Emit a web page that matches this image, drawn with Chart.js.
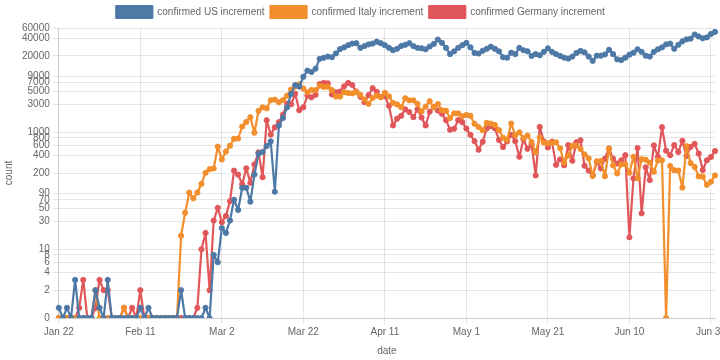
<!DOCTYPE html>
<html><head><meta charset="utf-8">
<script src="https://cdn.jsdelivr.net/npm/chart.js@4"></script>
<style>html,body{margin:0;padding:0;background:#fff}#wrap{width:720px;height:360px}</style>
</head><body><div id="wrap"><canvas id="c" width="720" height="360"></canvas></div>
<script>
const dates = [
"Jan 22","Jan 23","Jan 24","Jan 25","Jan 26","Jan 27","Jan 28","Jan 29","Jan 30","Jan 31",
"Feb 1","Feb 2","Feb 3","Feb 4","Feb 5","Feb 6","Feb 7","Feb 8","Feb 9","Feb 10","Feb 11","Feb 12","Feb 13","Feb 14","Feb 15","Feb 16","Feb 17","Feb 18","Feb 19","Feb 20","Feb 21","Feb 22","Feb 23","Feb 24","Feb 25","Feb 26","Feb 27","Feb 28","Feb 29",
"Mar 1","Mar 2","Mar 3","Mar 4","Mar 5","Mar 6","Mar 7","Mar 8","Mar 9","Mar 10","Mar 11","Mar 12","Mar 13","Mar 14","Mar 15","Mar 16","Mar 17","Mar 18","Mar 19","Mar 20","Mar 21","Mar 22","Mar 23","Mar 24","Mar 25","Mar 26","Mar 27","Mar 28","Mar 29","Mar 30","Mar 31",
"Apr 1","Apr 2","Apr 3","Apr 4","Apr 5","Apr 6","Apr 7","Apr 8","Apr 9","Apr 10","Apr 11","Apr 12","Apr 13","Apr 14","Apr 15","Apr 16","Apr 17","Apr 18","Apr 19","Apr 20","Apr 21","Apr 22","Apr 23","Apr 24","Apr 25","Apr 26","Apr 27","Apr 28","Apr 29","Apr 30",
"May 1","May 2","May 3","May 4","May 5","May 6","May 7","May 8","May 9","May 10","May 11","May 12","May 13","May 14","May 15","May 16","May 17","May 18","May 19","May 20","May 21","May 22","May 23","May 24","May 25","May 26","May 27","May 28","May 29","May 30","May 31",
"Jun 1","Jun 2","Jun 3","Jun 4","Jun 5","Jun 6","Jun 7","Jun 8","Jun 9","Jun 10","Jun 11","Jun 12","Jun 13","Jun 14","Jun 15","Jun 16","Jun 17","Jun 18","Jun 19","Jun 20","Jun 21","Jun 22","Jun 23","Jun 24","Jun 25","Jun 26","Jun 27","Jun 28","Jun 29","Jun 30",
"Jul 1"];

const xTickLabels = ["Jan 22","Feb 11","Mar 2","Mar 22","Apr 11","May 1","May 21","Jun 10","Jun 30"];
const yTickValues = [0,2,4,6,8,10,30,50,70,90,200,400,600,800,1000,3000,5000,7000,9000,20000,40000,60000];

const usIncrement = [
1,0,1,0,3,0,0,0,0,2,
1,0,3,0,0,0,0,0,0,0,
1,0,1,0,0,0,0,0,0,0,
2,0,0,0,0,0,1,0,8,6,
23,19,31,70,47,112,112,65,189,429,
458,579,697,96,1300,1750,2650,4494,6367,5995,
8830,11231,10628,12127,17821,18591,19535,19002,22078,26212,
28000,30500,32500,33000,27500,29500,31500,32500,35000,33000,
30500,27500,25000,26500,29500,31000,33000,29500,27500,27000,
26000,29000,32000,38000,33500,27500,21500,24000,27500,30500,
33500,28000,22500,22000,24500,26500,28800,26500,24000,19000,
18700,22700,21500,27500,25000,24000,20000,21500,20500,23500,
27000,23500,21500,20000,18700,18000,19500,22500,24400,23000,
19500,16500,20200,20200,21200,25500,21500,17500,17000,18700,
21000,22700,26000,23500,20200,19500,23500,26000,28000,31500,
32500,26500,31000,35500,38300,39500,46500,43000,40000,41500,
47400,51500];

const italyIncrement = [
0,0,0,0,0,0,0,0,0,2,
0,0,0,0,0,0,1,0,0,0,
0,0,0,0,0,0,0,0,0,0,
17,42,93,74,93,131,202,233,240,566,
342,466,587,769,778,1247,1492,1797,977,2313,
2651,2547,3497,3590,3233,3526,4207,5322,5986,6557,
5560,4789,5249,5210,6203,5909,5974,5217,4050,4053,
4782,4668,4585,4805,4316,3599,3039,3836,4204,3951,
4694,4092,3153,2972,2667,3786,3493,3491,3047,2256,
2729,3370,2646,3021,2357,2324,1739,2091,2086,1872,
1965,1900,1389,1221,1075,1444,1401,1327,1083,802,
744,1402,888,992,789,875,675,451,813,665,
642,652,669,531,300,397,584,593,516,416,
355,178,318,321,177,518,270,197,280,283,
202,379,163,346,338,301,210,328,331,0,
264,224,221,113,577,296,255,175,174,126,
142,182];

const germanyIncrement = [
0,0,0,0,0,1,3,0,0,1,
3,2,2,0,0,0,1,0,1,0,
2,0,0,0,0,0,0,0,0,0,
0,0,0,0,1,10,19,2,31,51,
29,37,66,220,188,129,241,136,281,451,
170,1597,910,1210,1477,1985,3070,2993,4528,2365,
2660,4183,3930,4337,6615,6933,6824,4400,4790,4923,
6064,6922,6365,4933,4031,3251,4289,5633,4885,3990,
4133,2821,1300,1700,1900,2450,2200,1800,2458,1775,
1300,2237,2700,2337,2055,1600,1100,1144,1600,1478,
1150,900,700,500,685,1155,1268,1158,736,555,
697,900,700,380,755,519,617,182,1227,695,
548,689,276,342,272,600,324,672,726,267,
221,184,310,240,352,526,352,290,330,404,
16,162,535,41,251,152,594,378,1213,482,
404,602,459,712,391,558,630,430,225,331,
376,475];

// Logarithmic scale that keeps zero counts (drawn on the bottom edge, like the "0" tick)
class LogZeroScale extends Chart.LogarithmicScale {
  parse(raw, index) {
    if (raw === 0) return 0;
    return super.parse(raw, index);
  }
}
LogZeroScale.id = 'logzero';
LogZeroScale.defaults = Chart.LogarithmicScale.defaults;
Chart.register(LogZeroScale);

Chart.defaults.font.family = "'Liberation Sans', Arial, Helvetica, sans-serif";
Chart.defaults.font.size = 10;
Chart.defaults.color = '#666';

function ds(label, data, color) {
  return {
    label: label, data: data,
    borderColor: color, backgroundColor: color,
    borderWidth: 2.2, pointRadius: 2.6, pointBorderWidth: 1,
    pointBackgroundColor: color, pointBorderColor: color,
    borderJoinStyle: 'round', borderCapStyle: 'round',
    tension: 0, fill: false
  };
}

new Chart(document.getElementById('c'), {
  type: 'line',
  data: {
    labels: dates,
    datasets: [
      ds('confirmed US increment', usIncrement, '#4e79a7'),
      ds('confirmed Italy increment', italyIncrement, '#f28e2b'),
      ds('confirmed Germany increment', germanyIncrement, '#e15759')
    ]
  },
  options: {
    responsive: false,
    animation: false,
    layout: { padding: { right: 2, top: 0, left: 3, bottom: 3 } },
    plugins: {
      legend: { labels: { boxWidth: 36, boxHeight: 12, padding: 6, font: { size: 10 } } },
      tooltip: { enabled: false }
    },
    scales: {
      x: {
        type: 'category',
        title: { display: true, text: 'date', padding: { top: 5, bottom: 0 } },
        grid: { color: 'rgba(0,0,0,0.1)', tickLength: 6 },
        afterFit: function (scale) { scale.paddingRight = 0; },
        ticks: {
          autoSkip: false, maxRotation: 0, minRotation: 0, padding: 2,
          callback: function (v, i) { return xTickLabels.indexOf(dates[i]) >= 0 ? dates[i] : null; }
        }
      },
      y: {
        type: 'logzero',
        min: 0.67, max: 60000, bounds: 'data',
        title: { display: true, text: 'count', padding: { top: 0, bottom: 4 } },
        grid: { color: 'rgba(0,0,0,0.1)', tickLength: 6 },
        afterBuildTicks: function (scale) { scale.ticks = yTickValues.map(function (v) { return { value: v }; }); },
        ticks: { autoSkip: false, callback: function (v) { return String(v); } }
      }
    }
  }
});
</script></body></html>
